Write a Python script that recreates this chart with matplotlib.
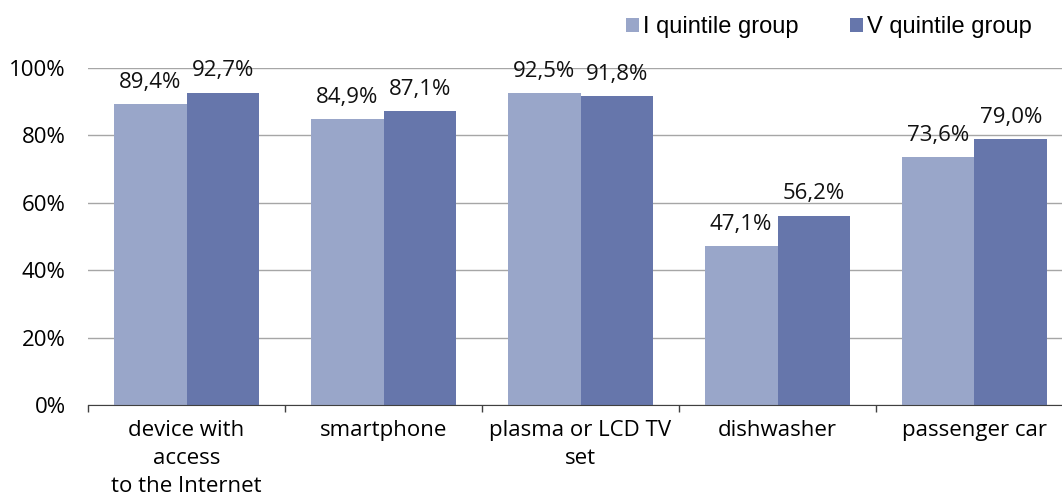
import matplotlib.pyplot as plt
import numpy as np

# data
categories = ["device with\naccess\nto the Internet", "smartphone",
              "plasma or LCD TV\nset", "dishwasher", "passenger car"]
quintile_1 = [89.4, 84.9, 92.5, 47.1, 73.6]
quintile_5 = [92.7, 87.1, 91.8, 56.2, 79.0]
series_names = ["I quintile group", "V quintile group"]
y_ticks = [0, 20, 40, 60, 80, 100]

light = "#99a6c9"
dark = "#6676ab"

fig = plt.figure(figsize=(10.62, 5.01), dpi=100)
ax = fig.add_axes([88 / 1062, 96 / 501, 985 / 1062, 337 / 501])

x = np.arange(len(categories))
w = 0.37
b1 = ax.bar(x - w / 2, quintile_1, w, color=light, label=series_names[0])
b2 = ax.bar(x + w / 2, quintile_5, w, color=dark, label=series_names[1])

label_font = "Open Sans"
fs = 16
for bars, vals in [(b1, quintile_1), (b2, quintile_5)]:
    for bar, v in zip(bars, vals):
        ax.annotate(f"{v:.1f}%".replace(".", ","),
                    (bar.get_x() + bar.get_width() / 2, v),
                    xytext=(0, 8), textcoords="offset points",
                    ha="center", va="bottom", fontsize=fs,
                    family=label_font, color="#111111", clip_on=False)

ax.set_xlim(-0.5, len(categories) - 0.5)
ax.set_ylim(0, 100)
ax.set_yticks(y_ticks)
ax.set_yticklabels([f"{t}%" for t in y_ticks], family=label_font,
                   fontsize=fs)
ax.tick_params(axis="y", length=0, pad=16)
ax.yaxis.grid(True, color="#a6a6a6", linewidth=1)
ax.set_axisbelow(True)

ax.set_xticks(x)
ax.set_xticklabels(categories, family=label_font, fontsize=fs,
                   linespacing=1.42)
ax.tick_params(axis="x", which="major", length=0, pad=11)
ax.set_xticks(np.arange(len(categories) + 1) - 0.5, minor=True)
ax.tick_params(axis="x", which="minor", length=5, width=1,
               color="#404040", direction="out")

for side in ["top", "right", "left"]:
    ax.spines[side].set_visible(False)
ax.spines["bottom"].set_color("#404040")

fig.legend(loc="upper right", bbox_to_anchor=(1053 / 1062, 1.01), ncol=2,
           frameon=False, prop={"family": "Liberation Sans", "size": 17},
           handlelength=0.55, handleheight=0.55, handletextpad=0.15,
           columnspacing=2.2)

fig.savefig("out.png", dpi=100)
